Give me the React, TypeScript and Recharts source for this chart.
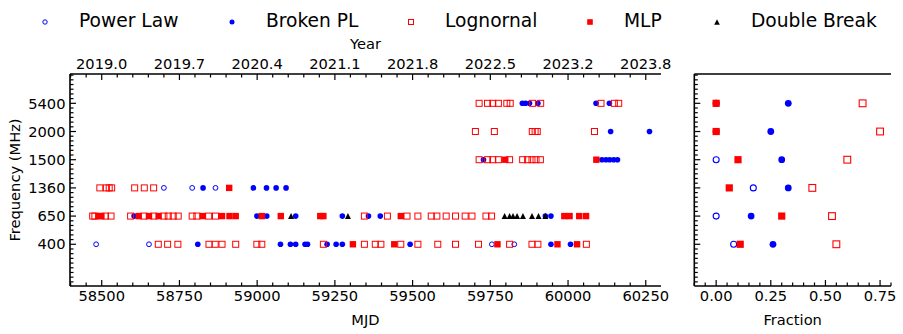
import React from 'react';
import { ScatterChart, Scatter, XAxis, YAxis, Legend } from 'recharts';

const FONT = '"DejaVu Sans", "Liberation Sans", sans-serif';
const BLUE = '#0000ff';
const RED = '#ff0000';
const BLACK = '#000000';

// ---------- categories / tick labels ----------
const FREQUENCY_LABELS = ['400', '650', '1360', '1500', '2000', '5400'];
const MJD_MAJOR = [58500, 58750, 59000, 59250, 59500, 59750, 60000, 60250];
const YEAR_LABELS = ['2019.0', '2019.7', '2020.4', '2021.1', '2021.8', '2022.5', '2023.2', '2023.8'];
const FRACTION_MAJOR = [0, 0.25, 0.5, 0.75];
const FRACTION_LABELS = ['0.00', '0.25', '0.50', '0.75'];
const SERIES_NAMES = ['Power Law', 'Broken PL', 'Lognornal', 'MLP', 'Double Break'];

// ---------- MJD of each fit, per band (400, 650, 1360, 1500, 2000, 5400) ----------
const powerLawMJD = [
  [58482, 58652, 59755, 59827],
  [],
  [58700, 58791, 58866],
  [],
  [],
  [],
];
const brokenPLMJD = [
  [58809, 59075, 59107, 59124, 59154, 59162, 59225, 59254, 59274, 59492, 59945, 60008],
  [58604, 58999, 59031, 59124, 59274, 59358, 59396, 59927, 59945],
  [58826, 58988, 59030, 59061, 59093],
  [59728, 60109, 60122, 60134, 60147, 60159],
  [60137, 60262],
  [59853, 59863, 59876, 59903, 60090, 60133],
];
const lognormalMJD = [
  [58682, 58712, 58745, 58845, 58865, 58887, 58931, 58999, 59015, 59213, 59345, 59380, 59398, 59462, 59517, 59581, 59638, 59712, 59812, 59884, 59903, 60059],
  [58471, 58478, 58512, 58530, 58593, 58636, 58668, 58700, 58714, 58730, 58746, 58791, 58806, 58844, 58866, 59345, 59419, 59482, 59517, 59560, 59578, 59608, 59638, 59669, 59691, 59736, 59754],
  [58494, 58515, 58524, 58532, 58606, 58637, 58667],
  [59714, 59741, 59758, 59776, 59812, 59854, 59870, 59884, 59897, 59911],
  [59702, 59763, 59885, 59894, 59901, 60085],
  [59714, 59741, 59758, 59776, 59803, 59814, 59886, 59912, 60106, 60149, 60163],
];
const mlpMJD = [
  [59308, 59441, 59773, 59966, 60029],
  [58490, 58499, 58619, 58652, 58683, 58825, 58887, 58911, 58931, 59015, 59076, 59203, 59213, 59462, 59988, 60005, 60036, 60058],
  [58910],
  [59798, 60091],
  [],
  [],
];
const doubleBreakMJD = [
  [],
  [59109, 59292, 59796, 59812, 59823, 59836, 59855, 59884, 59905, 59927],
  [],
  [],
  [],
  [],
];

// ---------- fraction of each model per band ----------
const powerLawFrac = [0.08, 0.0, 0.17, 0.0, 0.0, 0.0];
const brokenPLFrac = [0.26, 0.16, 0.33, 0.3, 0.25, 0.33];
const lognormalFrac = [0.55, 0.53, 0.44, 0.6, 0.75, 0.67];
const mlpFrac = [0.11, 0.3, 0.06, 0.1, 0.0, 0.0];

// ---------- helpers to build library data ----------
function toPoints(rows: number[][]) {
  const out: { mjd: number; band: number }[] = [];
  rows.forEach((list, band) => list.forEach((mjd) => out.push({ mjd, band })));
  return out;
}
function toFracPoints(fracs: number[]) {
  return fracs.map((frac, band) => ({ frac, band }));
}

const MJD_DOMAIN: [number, number] = [58398, 60299];
const BAND_DOMAIN: [number, number] = [-1.48, 6.04];
const FRAC_DOMAIN: [number, number] = [-0.1, 0.8];

const mjdTicks: number[] = [];
for (let m = 58400; m <= 60250; m += 50) mjdTicks.push(m);
const bandTicks: number[] = [];
for (let k = -8; k <= 36; k++) bandTicks.push(k / 6);
const fracTicks: number[] = [];
for (let k = -2; k <= 16; k++) fracTicks.push(Math.round(k * 5) / 100);

const TICK_FS = 14.67;
const MAJOR_LEN = 6;
const MINOR_LEN = 3.5;
const TICK_W = 1.2;
const FRAME = { stroke: BLACK, strokeWidth: 1.6 };

// ---------- marker shapes ----------
const makeOpenCircle = (r: number, w: number) => (p: any) =>
  <circle cx={p.cx} cy={p.cy} r={r} fill="none" stroke={BLUE} strokeWidth={w} />;
const makeFilledCircle = (r: number) => (p: any) =>
  <circle cx={p.cx} cy={p.cy} r={r} fill={BLUE} stroke="none" />;
const makeOpenSquare = (s: number, w: number) => (p: any) =>
  <rect x={p.cx - s / 2} y={p.cy - s / 2} width={s} height={s} fill="none" stroke={RED} strokeWidth={w} />;
const makeFilledSquare = (s: number) => (p: any) =>
  <rect x={p.cx - s / 2} y={p.cy - s / 2} width={s} height={s} fill={RED} stroke="none" />;
const makeTriangle = (s: number) => (p: any) =>
  <polygon
    points={`${p.cx},${p.cy - s / 2} ${p.cx - s / 2},${p.cy + s / 2} ${p.cx + s / 2},${p.cy + s / 2}`}
    fill={BLACK}
    stroke="none"
  />;
const invisibleShape = () => <g />;

// ---------- ticks ----------
const isClose = (a: number, b: number) => Math.abs(a - b) < 1e-6;

const MjdBottomTick = (props: any) => {
  const { x, y, payload } = props;
  const idx = MJD_MAJOR.findIndex((m) => isClose(m, payload.value));
  const major = idx >= 0;
  return (
    <g>
      <line x1={x} x2={x} y1={y} y2={y - (major ? MAJOR_LEN : MINOR_LEN)} stroke={BLACK} strokeWidth={TICK_W} />
      {major && (
        <text x={x} y={y + 15} textAnchor="middle" fontSize={TICK_FS} fontFamily={FONT} fill={BLACK}>
          {MJD_MAJOR[idx]}
        </text>
      )}
    </g>
  );
};

const YearTopTick = (props: any) => {
  const { x, y, payload } = props;
  const idx = MJD_MAJOR.findIndex((m) => isClose(m, payload.value));
  const major = idx >= 0;
  return (
    <g>
      <line x1={x} x2={x} y1={y} y2={y + (major ? MAJOR_LEN : MINOR_LEN)} stroke={BLACK} strokeWidth={TICK_W} />
      {major && (
        <text x={x} y={y - 5.5} textAnchor="middle" fontSize={TICK_FS} fontFamily={FONT} fill={BLACK}>
          {YEAR_LABELS[idx]}
        </text>
      )}
    </g>
  );
};

const makeBandTick = (withLabels: boolean) => (props: any) => {
  const { x, y, payload } = props;
  const v = payload.value;
  const r = Math.round(v);
  const major = isClose(v, r) && r >= 0 && r < FREQUENCY_LABELS.length;
  return (
    <g>
      <line x1={x} x2={x + (major ? MAJOR_LEN : MINOR_LEN)} y1={y} y2={y} stroke={BLACK} strokeWidth={TICK_W} />
      {major && withLabels && (
        <text x={x - 4.5} y={y + 5.2} textAnchor="end" fontSize={TICK_FS} fontFamily={FONT} fill={BLACK}>
          {FREQUENCY_LABELS[r]}
        </text>
      )}
    </g>
  );
};
const BandTickLabelled = makeBandTick(true);
const BandTickPlain = makeBandTick(false);

const FracBottomTick = (props: any) => {
  const { x, y, payload } = props;
  const idx = FRACTION_MAJOR.findIndex((m) => isClose(m, payload.value));
  const major = idx >= 0;
  return (
    <g>
      <line x1={x} x2={x} y1={y} y2={y - (major ? MAJOR_LEN : MINOR_LEN)} stroke={BLACK} strokeWidth={TICK_W} />
      {major && (
        <text x={x} y={y + 15} textAnchor="middle" fontSize={TICK_FS} fontFamily={FONT} fill={BLACK}>
          {FRACTION_LABELS[idx]}
        </text>
      )}
    </g>
  );
};

// ---------- legend ----------
const LEGEND_MARKER_X = [45, 232, 411, 590, 717];
const legendMarkers = [
  (x: number, y: number) => <circle cx={x} cy={y} r={2.2} fill="none" stroke={BLUE} strokeWidth={1} />,
  (x: number, y: number) => <circle cx={x} cy={y} r={2.5} fill={BLUE} />,
  (x: number, y: number) => <rect x={x - 2.5} y={y - 2.5} width={5} height={5} fill="none" stroke={RED} strokeWidth={1} />,
  (x: number, y: number) => <rect x={x - 2.8} y={y - 2.8} width={5.6} height={5.6} fill={RED} />,
  (x: number, y: number) => <polygon points={`${x},${y - 2.8} ${x - 2.8},${y + 2.8} ${x + 2.8},${y + 2.8}`} fill={BLACK} />,
];
const LegendContent = () => (
  <svg width={903} height={40} style={{ display: 'block' }}>
    {SERIES_NAMES.map((name, i) => (
      <g key={name}>
        {legendMarkers[i](LEGEND_MARKER_X[i], 22)}
        <text x={LEGEND_MARKER_X[i] + 34} y={27.3} fontSize={18.67} fontFamily={FONT} fill={BLACK}>
          {name}
        </text>
      </g>
    ))}
  </svg>
);

const labelStyle = { fontSize: TICK_FS, fontFamily: FONT, fill: BLACK };

export default function App() {
  const plData = toPoints(powerLawMJD);
  const bplData = toPoints(brokenPLMJD);
  const lnData = toPoints(lognormalMJD);
  const mlpData = toPoints(mlpMJD);
  const dbData = toPoints(doubleBreakMJD);
  const fracAll = toFracPoints(lognormalFrac);

  return (
    <div style={{ position: 'absolute', left: 0, top: 0, width: 903, height: 334, background: '#fff' }}>
      <div style={{ position: 'absolute', left: 0, top: 0 }}>
        <ScatterChart width={680} height={334} margin={{ top: 0, right: 19, bottom: 0, left: 0 }}>
          <XAxis
            xAxisId="mjd"
            type="number"
            dataKey="mjd"
            orientation="bottom"
            domain={MJD_DOMAIN}
            allowDataOverflow
            ticks={mjdTicks}
            interval={0}
            height={48}
            tickSize={0}
            tickMargin={0}
            tickLine={false}
            tick={MjdBottomTick}
            axisLine={FRAME}
            label={{ value: 'MJD', position: 'insideBottom', offset: 9, style: labelStyle }}
          />
          <XAxis
            xAxisId="year"
            type="number"
            dataKey="mjd"
            orientation="top"
            domain={MJD_DOMAIN}
            allowDataOverflow
            ticks={mjdTicks}
            interval={0}
            height={74}
            tickSize={0}
            tickMargin={0}
            tickLine={false}
            tick={YearTopTick}
            axisLine={FRAME}
            label={{ value: 'Year', position: 'insideTop', offset: 38.3, style: labelStyle }}
          />
          <YAxis
            yAxisId="band"
            type="number"
            dataKey="band"
            domain={BAND_DOMAIN}
            allowDataOverflow
            ticks={bandTicks}
            interval={0}
            width={70}
            tickSize={0}
            tickMargin={0}
            tickLine={false}
            tick={BandTickLabelled}
            axisLine={FRAME}
            label={{
              value: 'Frequency (MHz)',
              angle: -90,
              position: 'insideLeft',
              offset: 14.3,
              style: { ...labelStyle, textAnchor: 'middle' },
            }}
          />
          <YAxis
            yAxisId="frame"
            type="number"
            dataKey="band"
            orientation="right"
            domain={BAND_DOMAIN}
            allowDataOverflow
            width={0}
            tick={false}
            tickLine={false}
            axisLine={FRAME}
          />
          <Legend
            layout="vertical"
            verticalAlign="middle"
            align="center"
            content={LegendContent}
            wrapperStyle={{ position: 'absolute', left: 0, top: 0, width: 903, height: 40 }}
          />
          <Scatter data={lnData} xAxisId="year" yAxisId="frame" shape={invisibleShape} legendType="none" isAnimationActive={false} />
          <Scatter name={SERIES_NAMES[0]} data={plData} xAxisId="mjd" yAxisId="band" shape={makeOpenCircle(2.4, 1)} isAnimationActive={false} />
          <Scatter name={SERIES_NAMES[1]} data={bplData} xAxisId="mjd" yAxisId="band" shape={makeFilledCircle(2.8)} isAnimationActive={false} />
          <Scatter name={SERIES_NAMES[2]} data={lnData} xAxisId="mjd" yAxisId="band" shape={makeOpenSquare(6, 1)} isAnimationActive={false} />
          <Scatter name={SERIES_NAMES[3]} data={mlpData} xAxisId="mjd" yAxisId="band" shape={makeFilledSquare(6.4)} isAnimationActive={false} />
          <Scatter name={SERIES_NAMES[4]} data={dbData} xAxisId="mjd" yAxisId="band" shape={makeTriangle(6)} isAnimationActive={false} />
        </ScatterChart>
      </div>
      <div style={{ position: 'absolute', left: 680, top: 0 }}>
        <ScatterChart width={223} height={334} margin={{ top: 0, right: 12, bottom: 0, left: 0 }}>
          <XAxis
            xAxisId="frac"
            type="number"
            dataKey="frac"
            orientation="bottom"
            domain={FRAC_DOMAIN}
            allowDataOverflow
            ticks={fracTicks}
            interval={0}
            height={48}
            tickSize={0}
            tickMargin={0}
            tickLine={false}
            tick={FracBottomTick}
            axisLine={FRAME}
            label={{ value: 'Fraction', position: 'insideBottom', offset: 9, style: labelStyle }}
          />
          <XAxis
            xAxisId="top"
            type="number"
            dataKey="frac"
            orientation="top"
            domain={FRAC_DOMAIN}
            allowDataOverflow
            height={74}
            tick={false}
            tickLine={false}
            axisLine={FRAME}
          />
          <YAxis
            yAxisId="band"
            type="number"
            dataKey="band"
            domain={BAND_DOMAIN}
            allowDataOverflow
            ticks={bandTicks}
            interval={0}
            width={14.3}
            tickSize={0}
            tickMargin={0}
            tickLine={false}
            tick={BandTickPlain}
            axisLine={FRAME}
          />
          <YAxis
            yAxisId="frame"
            type="number"
            dataKey="band"
            orientation="right"
            domain={BAND_DOMAIN}
            allowDataOverflow
            width={0}
            tick={false}
            tickLine={false}
            axisLine={FRAME}
          />
          <Scatter data={fracAll} xAxisId="top" yAxisId="frame" shape={invisibleShape} legendType="none" isAnimationActive={false} />
          <Scatter name={SERIES_NAMES[0]} data={toFracPoints(powerLawFrac)} xAxisId="frac" yAxisId="band" shape={makeOpenCircle(3.0, 1.1)} isAnimationActive={false} />
          <Scatter name={SERIES_NAMES[1]} data={toFracPoints(brokenPLFrac)} xAxisId="frac" yAxisId="band" shape={makeFilledCircle(3.4)} isAnimationActive={false} />
          <Scatter name={SERIES_NAMES[2]} data={toFracPoints(lognormalFrac)} xAxisId="frac" yAxisId="band" shape={makeOpenSquare(6.8, 1.1)} isAnimationActive={false} />
          <Scatter name={SERIES_NAMES[3]} data={toFracPoints(mlpFrac)} xAxisId="frac" yAxisId="band" shape={makeFilledSquare(7.2)} isAnimationActive={false} />
        </ScatterChart>
      </div>
    </div>
  );
}
